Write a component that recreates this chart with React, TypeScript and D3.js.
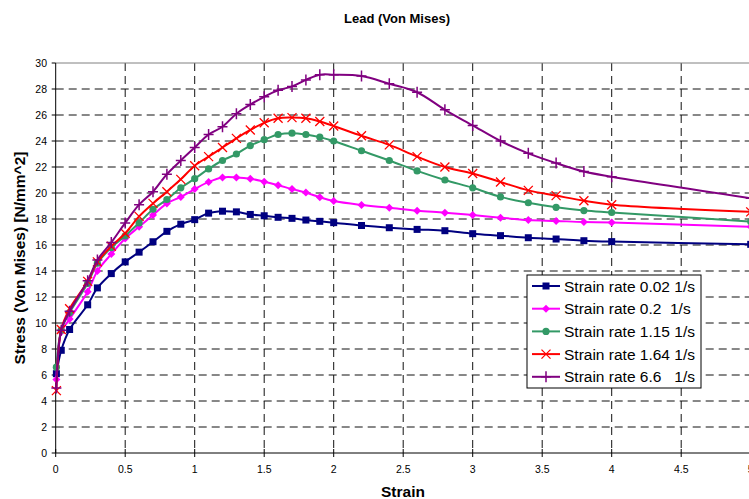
import React from "react";
import * as d3 from "d3";

const strain = [0.005, 0.04, 0.1, 0.23, 0.3, 0.4, 0.5, 0.6, 0.7, 0.8, 0.9, 1.0, 1.1, 1.2, 1.3, 1.4, 1.5, 1.6, 1.7, 1.8, 1.9, 2.0, 2.2, 2.4, 2.6, 2.8, 3.0, 3.2, 3.4, 3.6, 3.8, 4.0, 5.0];

const rate002 = [6.1, 7.9, 9.5, 11.4, 12.7, 13.8, 14.7, 15.45, 16.25, 17.05, 17.6, 17.95, 18.45, 18.6, 18.55, 18.35, 18.25, 18.13, 18.05, 17.92, 17.82, 17.72, 17.5, 17.33, 17.2, 17.1, 16.87, 16.72, 16.56, 16.46, 16.33, 16.26, 16.05];
const rate02 = [5.65, 9.3, 10.3, 12.4, 14.0, 15.3, 16.5, 17.4, 18.3, 19.2, 19.7, 20.3, 20.85, 21.2, 21.2, 21.1, 20.87, 20.6, 20.3, 20.03, 19.67, 19.38, 19.08, 18.87, 18.64, 18.49, 18.3, 18.1, 17.92, 17.85, 17.77, 17.74, 17.4];
const rate115 = [6.6, 9.45, 10.8, 13.05, 14.6, 15.8, 16.7, 17.7, 18.75, 19.5, 20.4, 21.1, 21.85, 22.5, 23.0, 23.65, 24.1, 24.5, 24.6, 24.5, 24.3, 24.0, 23.25, 22.5, 21.7, 21.0, 20.4, 19.7, 19.25, 18.9, 18.65, 18.5, 17.8];
const rate164 = [4.8, 9.5, 11.1, 13.2, 14.7, 15.9, 16.9, 18.2, 19.2, 20.1, 21.05, 22.1, 22.8, 23.5, 24.2, 24.85, 25.4, 25.75, 25.8, 25.75, 25.5, 25.15, 24.4, 23.7, 22.8, 22.0, 21.5, 20.85, 20.2, 19.8, 19.4, 19.1, 18.55];
const rate66 = [5.0, 9.45, 10.9, 13.25, 14.85, 16.2, 17.7, 19.1, 20.1, 21.45, 22.5, 23.5, 24.5, 25.1, 26.1, 26.8, 27.4, 27.9, 28.2, 28.7, 29.1, 29.1, 29.0, 28.4, 27.75, 26.4, 25.2, 24.0, 23.05, 22.3, 21.65, 21.25, 19.6];

const seriesNames = ["Strain rate 0.02 1/s", "Strain rate 0.2  1/s", "Strain rate 1.15 1/s", "Strain rate 1.64 1/s", "Strain rate 6.6   1/s"];
const seriesValues = [rate002, rate02, rate115, rate164, rate66];
const seriesColors = ["#000080", "#FF00FF", "#339966", "#FF0000", "#800080"];
const seriesMarkers = ["square", "diamond", "circle", "x", "plus"];

const xTicks = [0, 0.5, 1, 1.5, 2, 2.5, 3, 3.5, 4, 4.5, 5];
const yTicks = [0, 2, 4, 6, 8, 10, 12, 14, 16, 18, 20, 22, 24, 26, 28, 30];

const FONT = "'Liberation Sans', Arial, sans-serif";

function Marker({ type, x, y, color }: { type: string; x: number; y: number; color: string }) {
  if (type === "square") return <rect x={x - 3.5} y={y - 3.5} width={7} height={7} fill={color} />;
  if (type === "diamond") return <path d={`M${x},${y - 4}L${x + 4},${y}L${x},${y + 4}L${x - 4},${y}Z`} fill={color} />;
  if (type === "circle") return <circle cx={x} cy={y} r={3.6} fill={color} />;
  if (type === "x")
    return <path d={`M${x - 4.5},${y - 4.5}L${x + 4.5},${y + 4.5}M${x - 4.5},${y + 4.5}L${x + 4.5},${y - 4.5}`} stroke={color} strokeWidth={1.3} fill="none" />;
  return <path d={`M${x - 5},${y}L${x + 5},${y}M${x},${y - 5.5}L${x},${y + 5.5}`} stroke={color} strokeWidth={1.5} fill="none" />;
}

export default function App() {
  const x = d3.scaleLinear().domain([0, 5]).range([55.7, 750.7]);
  const y = d3.scaleLinear().domain([0, 30]).range([453, 63]);
  const line = d3
    .line<[number, number]>()
    .x((d) => x(d[0]))
    .y((d) => y(d[1]))
    .curve(d3.curveCatmullRom.alpha(0.5));

  const legX = 527, legY = 275, legW = 174, legH = 113;
  return (
    <svg width={749} height={499} style={{ position: "absolute", left: 0, top: 0, background: "#fff" }} fontFamily={FONT}>
      <rect x={0} y={0} width={749} height={499} fill="#fff" />
      {/* grid */}
      {yTicks.filter((t) => t > 0 && t < 30).map((t) => (
        <line key={"gy" + t} x1={x(0)} x2={x(5)} y1={y(t)} y2={y(t)} stroke="#111" strokeWidth={1} strokeDasharray="8,5" />
      ))}
      {xTicks.filter((t) => t > 0 && t < 5).map((t) => (
        <line key={"gx" + t} x1={x(t)} x2={x(t)} y1={y(30)} y2={y(0)} stroke="#111" strokeWidth={1} strokeDasharray="8,5" />
      ))}
      <line x1={x(0)} x2={x(5)} y1={y(30)} y2={y(30)} stroke="#808080" strokeWidth={1} />
      <line x1={x(5)} x2={x(5)} y1={y(30)} y2={y(0)} stroke="#808080" strokeWidth={1} />
      {/* axes */}
      <line x1={x(0)} x2={x(0)} y1={y(30)} y2={y(0)} stroke="#000" strokeWidth={1} />
      <line x1={x(0)} x2={x(5)} y1={y(0)} y2={y(0)} stroke="#000" strokeWidth={1} />
      {yTicks.map((t) => (
        <g key={"yt" + t}>
          <line x1={x(0) - 4} x2={x(0)} y1={y(t)} y2={y(t)} stroke="#000" />
          <text x={47} y={y(t) + 3.8} fontSize={10.5} textAnchor="end" fill="#000">{t}</text>
        </g>
      ))}
      {xTicks.map((t) => (
        <g key={"xt" + t}>
          <line x1={x(t)} x2={x(t)} y1={y(0) - 4} y2={y(0) + 4} stroke="#000" />
          <text x={x(t)} y={473} fontSize={10.5} textAnchor="middle" fill="#000">{t}</text>
        </g>
      ))}
      {/* series */}
      {seriesValues.map((vals, i) => {
        const pts = strain.map((s, j) => [s, vals[j]] as [number, number]);
        return (
          <g key={"s" + i}>
            <path d={line(pts) || ""} fill="none" stroke={seriesColors[i]} strokeWidth={2} />
            {pts.map((p, j) => (
              <Marker key={j} type={seriesMarkers[i]} x={x(p[0])} y={y(p[1])} color={seriesColors[i]} />
            ))}
          </g>
        );
      })}
      {/* titles */}
      <text x={397} y={23} fontSize={13} fontWeight="bold" textAnchor="middle">Lead (Von Mises)</text>
      <text x={403} y={497} fontSize={15.5} fontWeight="bold" textAnchor="middle">Strain</text>
      <text transform={`translate(25,258) rotate(-90)`} fontSize={15.5} fontWeight="bold" textAnchor="middle">Stress (Von Mises) [N/mm^2]</text>
      {/* legend */}
      <rect x={legX} y={legY} width={legW} height={legH} fill="#fff" stroke="#000" strokeWidth={1} />
      {seriesNames.map((n, i) => {
        const cy = legY + 11 + i * 22.7;
        return (
          <g key={"l" + i}>
            <line x1={532} x2={560} y1={cy} y2={cy} stroke={seriesColors[i]} strokeWidth={2} />
            <Marker type={seriesMarkers[i]} x={546} y={cy} color={seriesColors[i]} />
            <text x={564} y={cy + 5.5} fontSize={15.5} style={{ whiteSpace: "pre" }} fill="#000">{n}</text>
          </g>
        );
      })}
    </svg>
  );
}
